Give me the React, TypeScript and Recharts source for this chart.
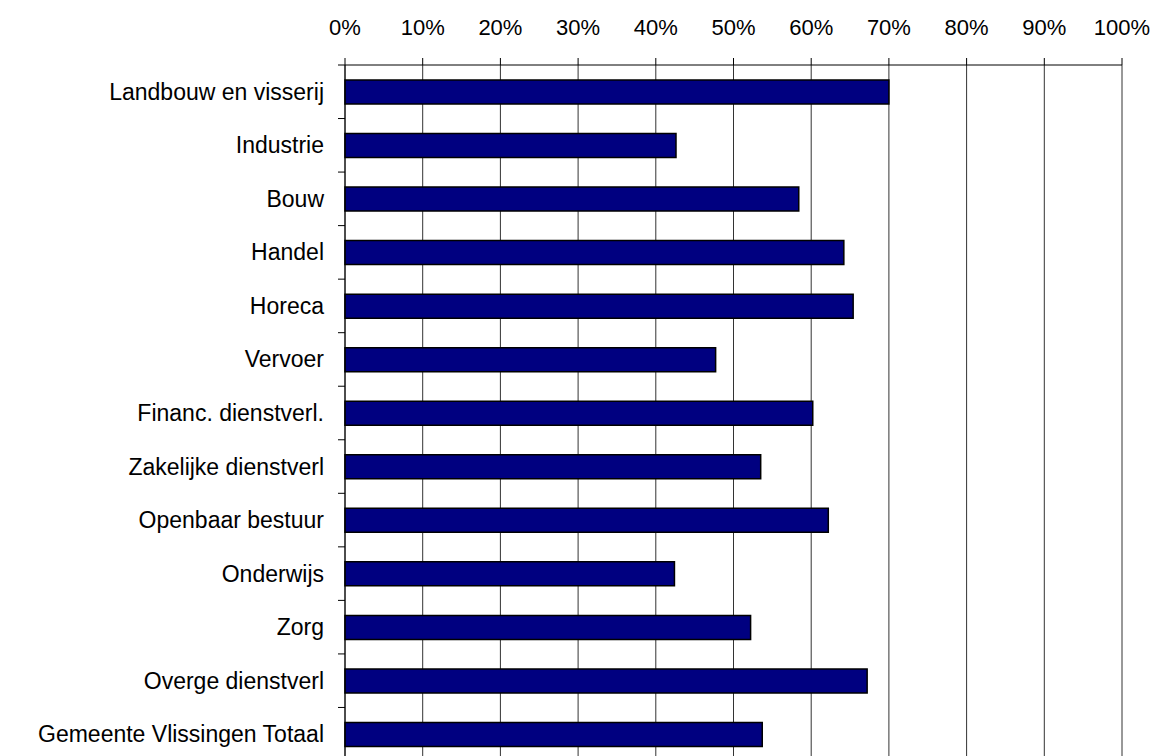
import { Bar, BarChart, CartesianGrid, XAxis, YAxis } from "recharts";

const sectors = [
  "Landbouw en visserij",
  "Industrie",
  "Bouw",
  "Handel",
  "Horeca",
  "Vervoer",
  "Financ. dienstverl.",
  "Zakelijke dienstverl",
  "Openbaar bestuur",
  "Onderwijs",
  "Zorg",
  "Overge dienstverl",
  "Gemeente Vlissingen Totaal",
];

const shares = [70.0, 42.6, 58.4, 64.2, 65.4, 47.7, 60.2, 53.5, 62.2, 42.4, 52.2, 67.2, 53.7];

const percentTicks = [0, 10, 20, 30, 40, 50, 60, 70, 80, 90, 100];

const data = sectors.map((name, i) => ({ name, value: shares[i] }));

const WIDTH = 1153;
const HEIGHT = 766;
const MARGIN = { top: 25, right: 31, bottom: 5, left: 0 };
const X_AXIS_HEIGHT = 40;
const PLOT_HEIGHT = HEIGHT - MARGIN.top - X_AXIS_HEIGHT - MARGIN.bottom;
const BAND = PLOT_HEIGHT / sectors.length;
const FONT = "'Liberation Sans', Arial, sans-serif";

function CategoryTick(props: any) {
  const { x, y, payload } = props;
  // label text plus a tick mark at the upper band boundary
  return (
    <g>
      <line x1={x + 14} x2={x + 21} y1={y - BAND / 2} y2={y - BAND / 2} stroke="#000" />
      <text
        x={x}
        y={y}
        dy={8}
        textAnchor="end"
        fill="#000"
        fontSize={23}
        fontFamily={FONT}
      >
        {payload.value}
      </text>
    </g>
  );
}

export default function App() {
  return (
    <div
      style={{
        position: "fixed",
        top: 0,
        left: 0,
        width: WIDTH,
        height: 756,
        overflow: "hidden",
        background: "#fff",
      }}
    >
      <BarChart width={WIDTH} height={HEIGHT} data={data} layout="vertical" margin={MARGIN}>
        <CartesianGrid horizontal={false} stroke="#333" verticalValues={percentTicks} />
        <XAxis
          type="number"
          orientation="top"
          domain={[0, 100]}
          ticks={percentTicks}
          tickFormatter={(v) => `${v}%`}
          height={X_AXIS_HEIGHT}
          tickSize={7}
          tickMargin={23}
          stroke="#000"
          tick={{ fill: "#000", fontSize: 22, fontFamily: FONT }}
          interval={0}
        />
        <YAxis
          type="category"
          dataKey="name"
          width={345}
          tickLine={false}
          tickSize={7}
          tickMargin={14}
          stroke="#000"
          interval={0}
          tick={<CategoryTick />}
        />
        <Bar
          dataKey="value"
          fill="#000080"
          stroke="#000"
          strokeWidth={1.5}
          barSize={24}
          isAnimationActive={false}
        />
      </BarChart>
    </div>
  );
}
